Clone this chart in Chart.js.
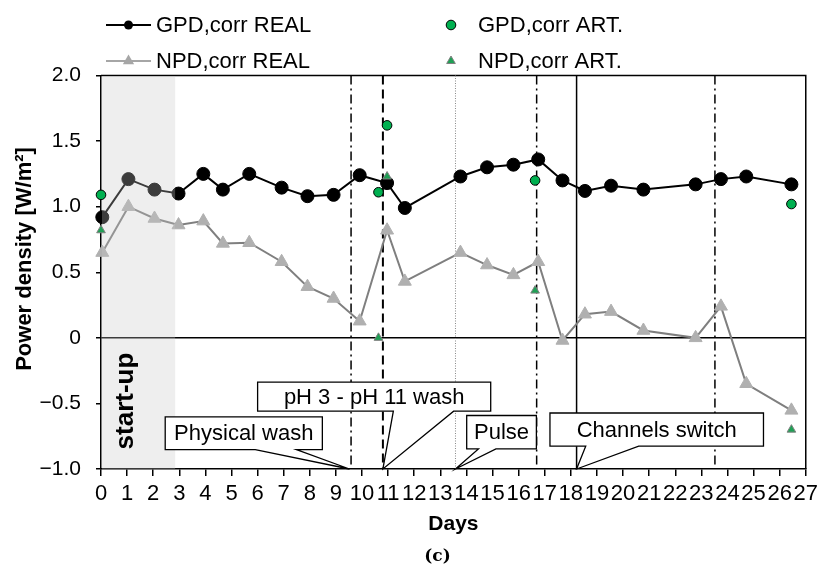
<!DOCTYPE html>
<html><head><meta charset="utf-8">
<script src="https://cdn.jsdelivr.net/npm/chart.js@4/dist/chart.umd.min.js"></script>
<style>html,body{margin:0;padding:0;background:#fff}#wrap{width:823px;height:568px;position:relative}</style>
</head><body><div id="wrap"><canvas id="c" width="823" height="568"></canvas></div>
<script>
// ---- data ----
const days = [0.05, 1.05, 2.05, 2.97, 3.92, 4.67, 5.68, 6.92, 7.91, 8.91, 9.91, 10.96, 11.64, 13.77, 14.79, 15.8, 16.75, 17.68, 18.54, 19.54, 20.78, 22.78, 23.75, 24.72, 26.45];
const gpdReal = [0.92, 1.21, 1.13, 1.10, 1.25, 1.13, 1.25, 1.145, 1.08, 1.09, 1.24, 1.18, 0.99, 1.23, 1.30, 1.32, 1.36, 1.20, 1.12, 1.16, 1.13, 1.17, 1.21, 1.23, 1.17];
const npdReal = [0.65, 1.00, 0.91, 0.86, 0.89, 0.72, 0.725, 0.58, 0.39, 0.30, 0.127, 0.82, 0.43, 0.65, 0.555, 0.48, 0.58, -0.02, 0.18, 0.20, 0.056, 0.0, 0.24, -0.35, -0.553];
const artDays = [0.0, 10.63, 10.96, 16.63, 26.45];
const gpdArt = [1.09, 1.11, 1.62, 1.20, 1.02];
const npdArt = [0.82, 0.0, 1.23, 0.36, -0.70];
const xTickLabels = ['0','1','2','3','4','5','6','7','8','9','10','11','12','13','14','15','16','17','18','19','20','21','22','23','24','25','26','27'];
const yTickLabels = ['\u22121.0','\u22120.5','0','0.5','1.0','1.5','2.0'];
const eventDays = [9.58, 10.80, 13.58, 16.69, 18.22, 23.52];
const eventKinds = ['dashdot', 'dashed', 'dotted', 'dashdot', 'solid', 'dashdot'];
const startUpRange = [0, 2.84];
const calloutTexts = ['Physical wash', 'pH 3 - pH 11 wash', 'Pulse', 'Channels switch'];
// callout geometry in axis units: box [x0,x1,yTop,yBottom], pointer base [b0,b1], tip day
const calloutGeom = [
  {x0: 2.46, x1: 8.48, yt: -0.603, yb: -0.852, b0: 5.91, b1: 7.49, tip: 9.52},
  {x0: 6.00, x1: 14.93, yt: -0.337, yb: -0.559, b0: 11.2, b1: 13.51, tip: 10.80},
  {x0: 14.01, x1: 16.68, yt: -0.592, yb: -0.847, b0: 14.46, b1: 15.13, tip: 13.58},
  {x0: 17.20, x1: 25.38, yt: -0.573, yb: -0.826, b0: 18.57, b1: 20.60, tip: 18.22}
];

const FONT = '"Liberation Sans", Arial, sans-serif';

function tri(ctx, x, y, r) {
  ctx.beginPath();
  ctx.moveTo(x, y - r);
  ctx.lineTo(x + r * 0.866, y + r * 0.5);
  ctx.lineTo(x - r * 0.866, y + r * 0.5);
  ctx.closePath();
}

const deco = {
  id: 'deco',
  beforeDatasetsDraw(chart) {
    const {ctx, chartArea: a, scales: {x, y}} = chart;
    ctx.save();
    // frame top/right
    ctx.strokeStyle = '#000'; ctx.lineWidth = 1.5;
    ctx.beginPath();
    ctx.moveTo(a.left, a.top); ctx.lineTo(a.right, a.top); ctx.lineTo(a.right, a.bottom);
    ctx.stroke();
    // event lines
    eventDays.forEach((d, i) => {
      const px = x.getPixelForValue(d);
      const k = eventKinds[i];
      ctx.strokeStyle = '#000'; ctx.lineWidth = 1.5; ctx.setLineDash([]);
      if (k === 'dashdot') ctx.setLineDash([9, 4, 2, 4]);
      if (k === 'dashed') { ctx.setLineDash([9, 5]); ctx.lineWidth = 2; }
      if (k === 'dotted') { ctx.setLineDash([1, 1.5]); ctx.lineWidth = 1; ctx.strokeStyle = '#888'; }
      ctx.beginPath(); ctx.moveTo(px, a.top); ctx.lineTo(px, a.bottom); ctx.stroke();
    });
    ctx.restore();
  },
  afterDatasetDraw(chart, args) {
    if (args.index !== 0) return;
    const {ctx, chartArea: a, scales: {x, y}} = chart;
    ctx.save();
    // start-up shading
    const x0 = x.getPixelForValue(startUpRange[0]) + 1, x1 = x.getPixelForValue(startUpRange[1]);
    ctx.fillStyle = 'rgba(200,200,200,0.3)';
    ctx.fillRect(x0, a.top + 1, x1 - x0, a.bottom - a.top - 1);
    ctx.translate((x0 + x1) / 2 - 13, 401);
    ctx.rotate(-Math.PI / 2);
    ctx.fillStyle = '#000'; ctx.font = 'bold 26px ' + FONT;
    ctx.textAlign = 'center'; ctx.textBaseline = 'middle';
    ctx.fillText('start-up', 0, 0);
    ctx.restore();
    // callouts
    ctx.save();
    ctx.font = '22px ' + FONT; ctx.textAlign = 'center'; ctx.textBaseline = 'middle';
    calloutGeom.forEach((c, i) => {
      const X0 = x.getPixelForValue(c.x0), X1 = x.getPixelForValue(c.x1);
      const Y0 = y.getPixelForValue(c.yt), Y1 = y.getPixelForValue(c.yb);
      const B0 = x.getPixelForValue(c.b0), B1 = x.getPixelForValue(c.b1);
      const T = x.getPixelForValue(c.tip), TY = y.getPixelForValue(-1);
      ctx.beginPath();
      ctx.moveTo(X0, Y0); ctx.lineTo(X1, Y0); ctx.lineTo(X1, Y1); ctx.lineTo(B1, Y1);
      ctx.lineTo(T, TY); ctx.lineTo(B0, Y1); ctx.lineTo(X0, Y1); ctx.closePath();
      ctx.fillStyle = '#fff'; ctx.fill();
      ctx.strokeStyle = '#000'; ctx.lineWidth = 1.3; ctx.stroke();
      ctx.fillStyle = '#000';
      ctx.fillText(calloutTexts[i], (X0 + X1) / 2, (Y0 + Y1) / 2 + 1);
    });
    ctx.restore();
  },
  afterDraw(chart) {
    const {ctx} = chart;
    ctx.save();
    // y axis title
    ctx.save();
    ctx.translate(25, 259); ctx.rotate(-Math.PI / 2);
    ctx.font = 'bold 22px ' + FONT; ctx.textAlign = 'center'; ctx.textBaseline = 'middle';
    ctx.fillStyle = '#000';
    ctx.fillText('Power density [W/m\u00b2]', 0, 0);
    ctx.restore();
    ctx.font = '22px ' + FONT; ctx.textBaseline = 'middle'; ctx.textAlign = 'left';
    ctx.fillStyle = '#000';
    // row 1 col 1
    ctx.strokeStyle = '#000'; ctx.lineWidth = 2;
    ctx.beginPath(); ctx.moveTo(106, 25); ctx.lineTo(151, 25); ctx.stroke();
    ctx.beginPath(); ctx.arc(128.5, 25, 4.5, 0, Math.PI * 2); ctx.fillStyle = '#000'; ctx.fill();
    ctx.fillText('GPD,corr REAL', 156, 26);
    // row 2 col 1
    ctx.strokeStyle = '#a6a6a6';
    ctx.beginPath(); ctx.moveTo(106, 61); ctx.lineTo(151, 61); ctx.stroke();
    tri(ctx, 128.5, 61, 6.5); ctx.fillStyle = '#a6a6a6'; ctx.fill();
    ctx.fillStyle = '#000';
    ctx.fillText('NPD,corr REAL', 156, 62);
    // col 2
    ctx.beginPath(); ctx.arc(451, 25, 4.8, 0, Math.PI * 2);
    ctx.fillStyle = '#00b050'; ctx.fill(); ctx.strokeStyle = '#000'; ctx.lineWidth = 1; ctx.stroke();
    ctx.fillStyle = '#000'; ctx.fillText('GPD,corr ART.', 478, 26);
    tri(ctx, 451, 61, 5); ctx.fillStyle = '#1fa055'; ctx.fill(); ctx.strokeStyle = '#808080'; ctx.lineWidth = 1; ctx.stroke();
    ctx.fillStyle = '#000'; ctx.fillText('NPD,corr ART.', 478, 62);
    // caption
    ctx.font = 'bold 17px "DejaVu Serif", serif'; ctx.textAlign = 'center';
    ctx.fillText('(c)', 437.5, 557);
    ctx.restore();
  }
};

const pts = (xs, ys) => xs.map((d, i) => ({x: d, y: ys[i]}));

new Chart(document.getElementById('c'), {
  type: 'line',
  data: {
    datasets: [
      {label: 'GPD,corr REAL', data: pts(days, gpdReal), order: 3, clip: false,
       borderColor: '#000', borderWidth: 2, pointStyle: 'circle', pointRadius: 6.5,
       pointBackgroundColor: '#000', pointBorderColor: '#000', pointBorderWidth: 1, tension: 0},
      {label: 'NPD,corr REAL', data: pts(days, npdReal), order: 4, clip: false,
       borderColor: '#7f7f7f', borderWidth: 2, pointStyle: 'triangle', pointRadius: 7.5,
       pointBackgroundColor: '#b0b0b0', pointBorderColor: '#b0b0b0', pointBorderWidth: 1, tension: 0},
      {label: 'GPD,corr ART.', data: pts(artDays, gpdArt), order: 2, clip: false, showLine: false,
       pointStyle: 'circle', pointRadius: 4.8, pointBackgroundColor: '#00b050', pointBorderColor: '#000', pointBorderWidth: 1},
      {label: 'NPD,corr ART.', data: pts(artDays, npdArt), order: 1, clip: false, showLine: false,
       pointStyle: 'triangle', pointRadius: 5, pointBackgroundColor: '#1fa055', pointBorderColor: '#808080', pointBorderWidth: 1}
    ]
  },
  options: {
    responsive: false, animation: false, devicePixelRatio: 1,
    layout: {padding: {top: 75.5, right: 11, bottom: 0, left: 0}},
    plugins: {legend: {display: false}, tooltip: {enabled: false}},
    scales: {
      x: {
        type: 'linear', min: 0, max: 27,
        afterFit(s) { s.height = 99; },
        ticks: {stepSize: 1, autoSkip: false, maxRotation: 0, minRotation: 0, maxTicksLimit: 40,
          color: '#000', font: {family: FONT, size: 22}, padding: 5,
          callback: (v, i) => xTickLabels[i]},
        grid: {display: true, drawOnChartArea: false, drawTicks: true, tickLength: 7, color: '#000', lineWidth: 1.5},
        border: {display: true, color: '#000', width: 1.5},
        title: {display: true, text: 'Days', color: '#000', font: {family: FONT, size: 21, weight: 'bold'}, padding: {top: 0, bottom: 31}}
      },
      y: {
        type: 'linear', min: -1, max: 2,
        afterFit(s) { s.width = 101; },
        ticks: {stepSize: 0.5, color: '#000', font: {family: FONT, size: 21}, padding: 15,
          callback: (v, i) => yTickLabels[i]},
        grid: {display: true, drawOnChartArea: true, drawTicks: true, tickLength: 5,
          color: (c) => (c.tick && c.tick.value === 0) ? '#000' : 'rgba(0,0,0,0)', tickColor: '#000', lineWidth: 1.5},
        border: {display: true, color: '#000', width: 1.5},
        title: {display: false}
      }
    }
  },
  plugins: [deco]
});
</script>
</body></html>
